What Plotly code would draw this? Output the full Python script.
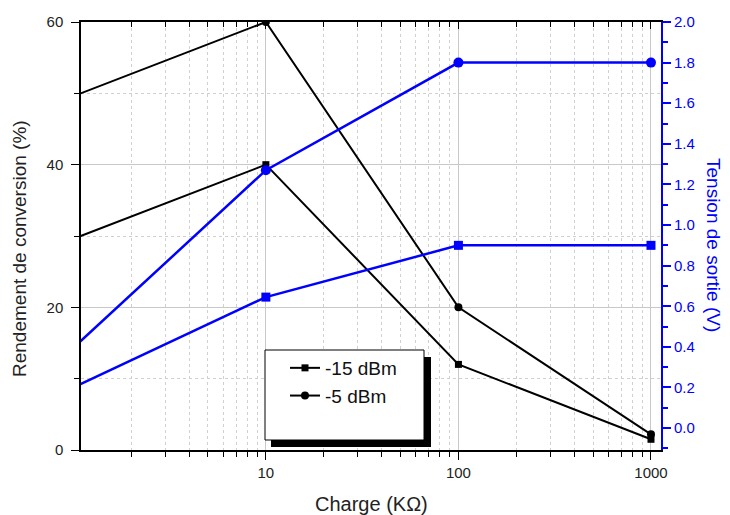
import plotly.graph_objects as go

# ---- data ----
charge = [1, 10, 100, 1000]
rend_m15 = [29.6, 40, 12, 1.5]      # -15 dBm, conversion efficiency (%)
rend_m5 = [49.6, 60, 20, 2.2]       # -5 dBm, conversion efficiency (%)
tens_m15 = [0.2, 0.645, 0.9, 0.9]   # -15 dBm, output voltage (V)
tens_m5 = [0.395, 1.27, 1.8, 1.8]   # -5 dBm, output voltage (V)
x_ticks = [10, 100, 1000]
x_ticktext = ["10", "100", "1000"]
legend_names = ["-15 dBm", "-5 dBm"]

# ---- layout constants (page pixel coordinates; page body has 8px margin) ----
OFF = 8
W, H = 730 - OFF, 515 - OFF
L, R, T, B = 81, 661, 22, 450
BLUE = "#0000ff"
FONT = "Liberation Sans, Arial, sans-serif"
TXT = "#222222"

def px_x(p):
    return (p - L) / (R - L)

def px_y(p):
    return (B - p) / (B - T)

minor_x = [m * d for d in (1, 10, 100) for m in range(2, 10)]
xrange_log = [0.04, 3.052]

fig = go.Figure()

fig.add_trace(go.Scatter(x=charge, y=rend_m15, name=legend_names[0], mode="lines+markers",
                         line=dict(color="black", width=2),
                         marker=dict(symbol="square", size=7, color="black")))
fig.add_trace(go.Scatter(x=charge, y=rend_m5, name=legend_names[1], mode="lines+markers",
                         line=dict(color="black", width=2),
                         marker=dict(symbol="circle", size=8, color="black")))
fig.add_trace(go.Scatter(x=charge, y=tens_m15, yaxis="y2", mode="lines+markers", showlegend=False,
                         line=dict(color=BLUE, width=2.5),
                         marker=dict(symbol="square", size=9, color=BLUE)))
fig.add_trace(go.Scatter(x=charge, y=tens_m5, yaxis="y2", mode="lines+markers", showlegend=False,
                         line=dict(color=BLUE, width=2.5),
                         marker=dict(symbol="circle", size=10, color=BLUE)))
# invisible trace to activate top axis
fig.add_trace(go.Scatter(x=[10], y=[None], xaxis="x2", showlegend=False, hoverinfo="skip"))

tickfont = dict(family=FONT, size=15, color=TXT)

fig.update_layout(
    width=W, height=H,
    margin=dict(l=L - OFF, r=W - (R - OFF), t=T - OFF, b=H - (B - OFF)),
    paper_bgcolor="white", plot_bgcolor="white",
    font=dict(family=FONT, color=TXT),
    xaxis=dict(type="log", range=xrange_log, tickmode="array", tickvals=x_ticks, ticktext=x_ticktext,
               ticks="outside", ticklen=8, tickwidth=1, tickcolor="black", automargin=False,
               showline=True, linecolor="black", linewidth=1.5,
               showgrid=True, gridcolor="#c8c8c8", gridwidth=1,
               tickfont=tickfont, zeroline=False,
               minor=dict(tickmode="array", tickvals=minor_x, ticks="outside", ticklen=5,
                          tickcolor="black", showgrid=True, gridcolor="#d0d0d0", griddash="dot", gridwidth=1)),
    xaxis2=dict(type="log", range=xrange_log, overlaying="x", side="top", tickmode="array",
                tickvals=x_ticks, showticklabels=False, ticks="inside", ticklen=7, tickcolor="black",
                showline=True, linecolor="black", linewidth=1.5, showgrid=False, zeroline=False,
                automargin=False,
                minor=dict(tickmode="array", tickvals=minor_x, ticks="inside", ticklen=5,
                           tickcolor="black", showgrid=False)),
    yaxis=dict(range=[0, 60], tickmode="array", tickvals=[0, 20, 40, 60],
               ticks="outside", ticklen=8, tickcolor="black", automargin=False,
               showline=True, linecolor="black", linewidth=1.5,
               showgrid=True, gridcolor="#c8c8c8", gridwidth=1, zeroline=False,
               tickfont=tickfont, ticklabelstandoff=5,
               minor=dict(dtick=10, tick0=0, ticks="outside", ticklen=5, tickcolor="black",
                          showgrid=True, gridcolor="#d0d0d0", griddash="dot")),
    yaxis2=dict(range=[-0.108, 2.0], overlaying="y", side="right", tick0=0, dtick=0.2,
                tickformat=".1f", ticks="outside", ticklen=8, tickcolor=BLUE, tickwidth=1.5,
                showline=True, linecolor=BLUE, linewidth=2, showgrid=False, zeroline=False,
                automargin=False,
                tickfont=dict(family=FONT, size=15, color=BLUE),
                minor=dict(dtick=0.1, tick0=0, ticks="outside", ticklen=5, tickcolor=BLUE, tickwidth=1.5)),
    legend=dict(x=px_x(285), y=px_y(349), xanchor="left", yanchor="top",
                bgcolor="rgba(0,0,0,0)", borderwidth=0,
                font=dict(family=FONT, size=19, color="#111111"),
                tracegroupgap=0, itemwidth=30),
    showlegend=True,
)

# legend box with drop shadow
fig.add_shape(type="rect", xref="paper", yref="paper",
              x0=px_x(271), x1=px_x(431), y0=px_y(447), y1=px_y(357),
              fillcolor="black", line=dict(width=0), layer="above")
fig.add_shape(type="rect", xref="paper", yref="paper",
              x0=px_x(265), x1=px_x(424), y0=px_y(440), y1=px_y(350),
              fillcolor="white", line=dict(color="black", width=1), layer="above")

# axis titles
fig.add_annotation(text="Charge (KΩ)", xref="paper", yref="paper",
                   x=px_x(371), y=px_y(504), showarrow=False, xanchor="center", yanchor="middle",
                   font=dict(family=FONT, size=20, color=TXT))
fig.add_annotation(text="Rendement de conversion (%)", xref="paper", yref="paper",
                   x=px_x(19), y=px_y(249), textangle=-90, showarrow=False,
                   xanchor="center", yanchor="middle",
                   font=dict(family=FONT, size=19, color=TXT))
fig.add_annotation(text="Tension de sortie (V)", xref="paper", yref="paper",
                   x=px_x(713), y=px_y(245), textangle=90, showarrow=False,
                   xanchor="center", yanchor="middle",
                   font=dict(family=FONT, size=19, color=BLUE))

fig.write_html("out.html")
